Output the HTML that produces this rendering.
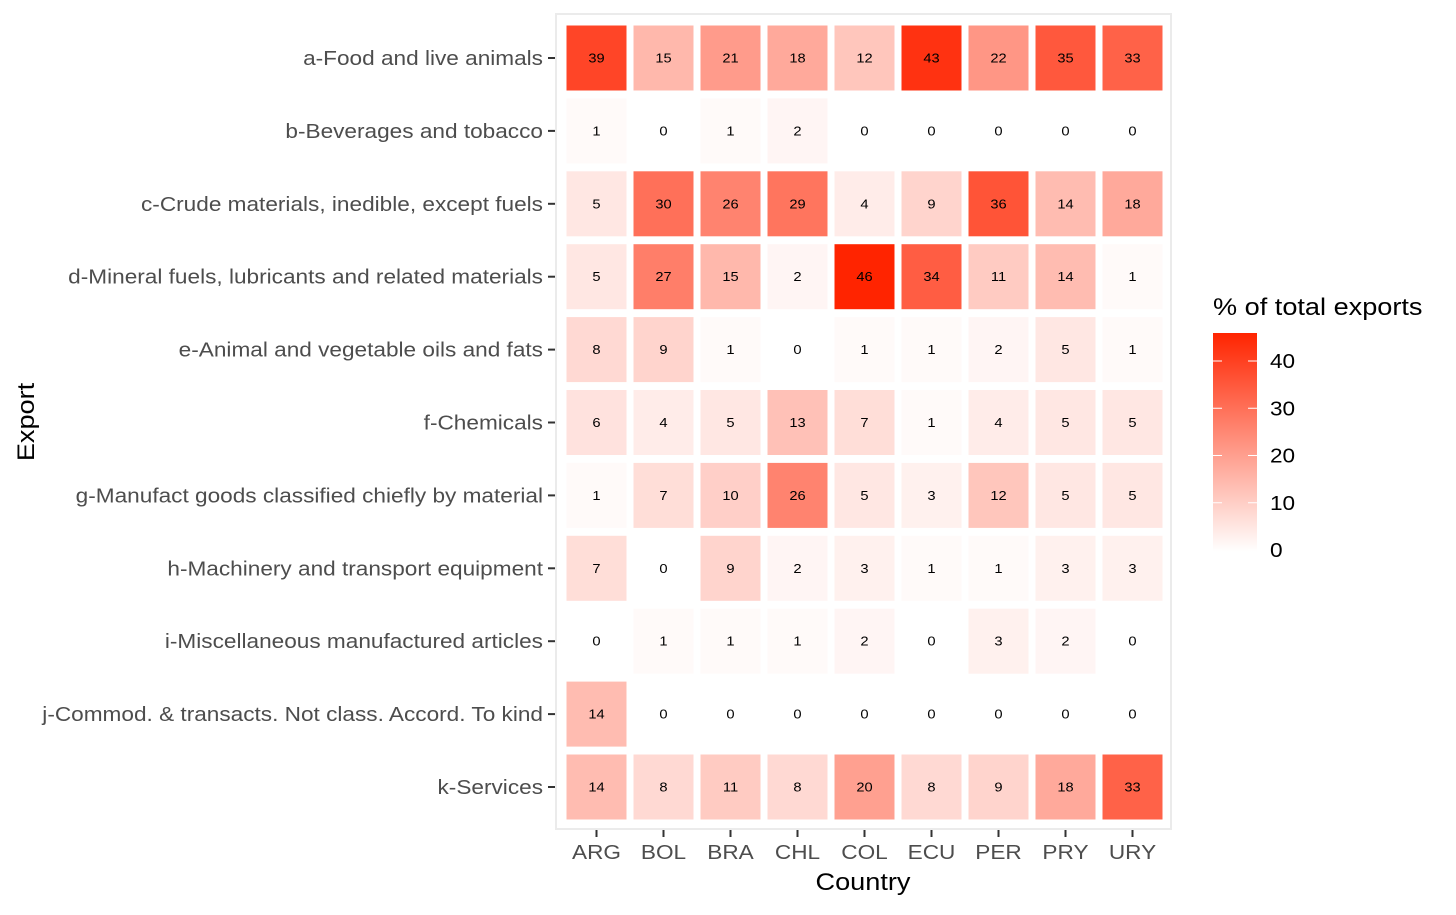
<!DOCTYPE html>
<html><head><meta charset="utf-8"><style>
body{margin:0;background:#fff;font-family:"Liberation Sans",Arial,sans-serif}
</style></head><body>
<svg id="chart" width="1456" height="910" xmlns="http://www.w3.org/2000/svg">
<defs><linearGradient id="lg" x1="0" y1="1" x2="0" y2="0">
<stop offset="0" stop-color="#ffffff"/><stop offset="1" stop-color="#ff2400"/></linearGradient></defs>
<rect x="556" y="14" width="615" height="815" fill="none" stroke="#ebebeb" stroke-width="2"/>
<g id="cells"></g><g id="ylabels"></g><g id="xlabels"></g>
<text class="wide" x="863" y="890" font-size="24" text-anchor="middle">Country</text>
<text class="wide" transform="translate(34,422) rotate(-90)" font-size="24" text-anchor="middle">Export</text>
<g>
<text class="wide" x="1213" y="315" font-size="24">% of total exports</text>
<rect x="1213" y="333" width="44" height="219" fill="url(#lg)"/>
<g id="legticks"></g>
</g>
</svg>
<script>
const countries=["ARG","BOL","BRA","CHL","COL","ECU","PER","PRY","URY"];
const exportsCat=["a-Food and live animals","b-Beverages and tobacco","c-Crude materials, inedible, except fuels","d-Mineral fuels, lubricants and related materials","e-Animal and vegetable oils and fats","f-Chemicals","g-Manufact goods classified chiefly by material","h-Machinery and transport equipment","i-Miscellaneous manufactured articles","j-Commod. & transacts. Not class. Accord. To kind","k-Services"];
const values=[
[39,15,21,18,12,43,22,35,33],
[1,0,1,2,0,0,0,0,0],
[5,30,26,29,4,9,36,14,18],
[5,27,15,2,46,34,11,14,1],
[8,9,1,0,1,1,2,5,1],
[6,4,5,13,7,1,4,5,5],
[1,7,10,26,5,3,12,5,5],
[7,0,9,2,3,1,1,3,3],
[0,1,1,1,2,0,3,2,0],
[14,0,0,0,0,0,0,0,0],
[14,8,11,8,20,8,9,18,33]];
const legendTicks=[0,10,20,30,40];
const NS="http://www.w3.org/2000/svg";
const xS=i=>596.5+i*67;
const yS=j=>58+j*72.9;
const vmax=46;
const col=v=>{const t=Math.min(v/vmax,1);return `rgb(255,${Math.round(255-t*219)},${Math.round(255-t*255)})`;};
const legY=v=>550-v*4.725;
function mk(tag,attrs,parent,txt){const e=document.createElementNS(NS,tag);for(const k in attrs)e.setAttribute(k,attrs[k]);if(txt!==undefined)e.textContent=txt;parent.appendChild(e);return e;}
const cells=document.getElementById('cells'),yl=document.getElementById('ylabels'),xl=document.getElementById('xlabels'),lt=document.getElementById('legticks');
exportsCat.forEach((c,j)=>{
  countries.forEach((k,i)=>{
    const v=values[j][i];
    const r=mk('rect',{x:xS(i)-30,y:yS(j)-32.5,width:60,height:65,fill:col(v)},cells);
    
    
    const t=mk('text',{x:xS(i),y:yS(j)+4.5,'font-size':13,'text-anchor':'middle',fill:'#000',class:'wide'},cells,v);
    
    
  });
  const t=mk('text',{x:543,y:yS(j)+7,'font-size':20,'text-anchor':'end',fill:'#4d4d4d',class:'wide'},yl,c);
  
  
  mk('line',{x1:548,x2:555,y1:yS(j),y2:yS(j),stroke:'#333','stroke-width':2},yl);
});
countries.forEach((k,i)=>{
  mk('line',{x1:xS(i),x2:xS(i),y1:830,y2:837,stroke:'#333','stroke-width':2},xl);
  const t=mk('text',{x:xS(i),y:859,'font-size':20,'text-anchor':'middle',fill:'#4d4d4d',class:'wide'},xl,k);
  
  
});
legendTicks.forEach(v=>{
  mk('line',{x1:1213,x2:1222,y1:legY(v),y2:legY(v),stroke:'#fff','stroke-width':1},lt);
  mk('line',{x1:1248,x2:1257,y1:legY(v),y2:legY(v),stroke:'#fff','stroke-width':1},lt);
  const t=mk('text',{x:1270,y:legY(v)+7,'font-size':20,fill:'#000',class:'wide'},lt,v);
  
  
});
document.querySelectorAll('text.wide').forEach(t=>{
  const w=t.getComputedTextLength();
  t.setAttribute('textLength',(w*1.13).toFixed(1));
  t.setAttribute('lengthAdjust','spacingAndGlyphs');
});
</script>
</body></html>
